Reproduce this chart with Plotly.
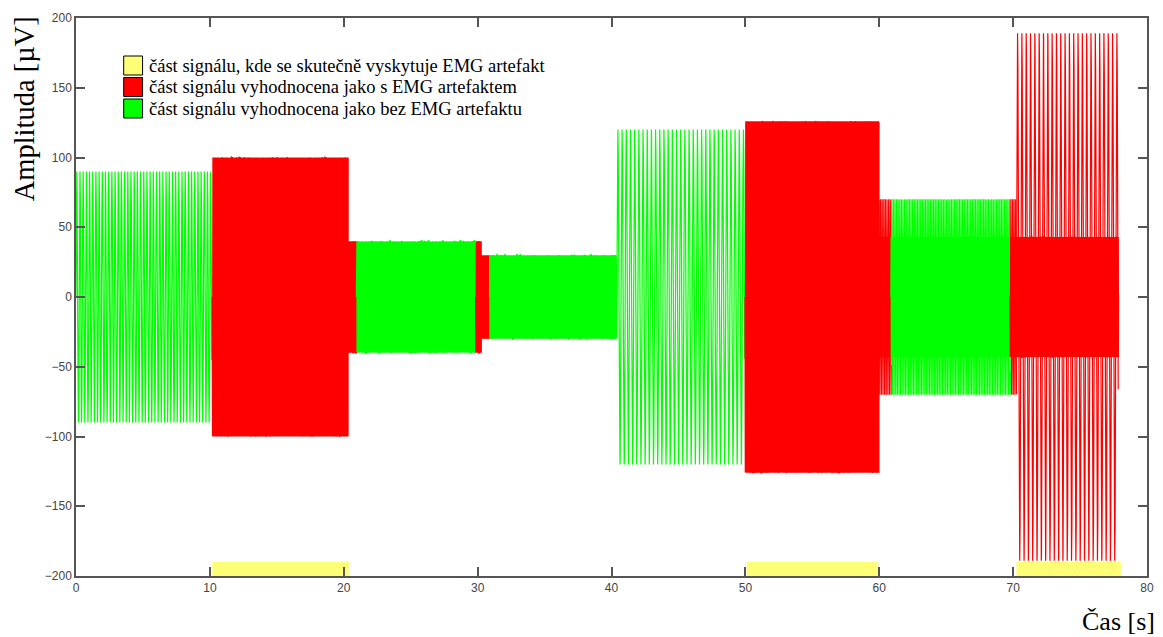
import numpy as np
import plotly.graph_objects as go

FS = 1000  # samples per second

# Signal segments: start [s], end [s], evaluation, amplitude [µV], frequency [Hz]
seg_start = [0.0, 10.2, 20.3, 20.97, 29.88, 30.25, 30.92, 40.4, 50.0, 59.95, 60.9, 69.8, 70.25]
seg_end = [10.14, 20.3, 20.97, 29.88, 30.25, 30.92, 40.35, 49.95, 59.95, 60.9, 69.8, 70.25, 77.85]
seg_artefact = [False, True, True, False, True, True, False, False, True, True, False, True, True]
seg_amp = [90, 100, 40, 40, 40, 30, 30, 120, 126, 70, 70, 70, 189]
seg_freq = [4.2, 73.3, 73.3, 71.7, 73.3, 73.3, 73.3, 3.2, 73.3, 8.3, 8.3, 8.3, 3.1]

# Superposed high-frequency component in the later segments (µV, Hz)
core_amp = [0, 0, 0, 0, 0, 0, 0, 0, 0, 43, 43, 43, 43]
core_freq = 73.3

# Intervals where the EMG artefact really occurs [s]
art_start = [10.18, 50.1, 70.25]
art_end = [20.38, 59.88, 78.05]

legend_texts = [
    "část signálu, kde se skutečně vyskytuje EMG artefakt",
    "část signálu vyhodnocena jako s EMG artefaktem",
    "část signálu vyhodnocena jako bez EMG artefaktu",
]

RED = "#ff0000"
GREEN = "#00ff00"
YELLOW = "#ffff77"

fig = go.Figure()


def segment_trace(t0, t1, amp, freq, color):
    t = np.arange(t0, t1, 1.0 / FS)
    y = amp * np.sin(2 * np.pi * freq * (t - t0))
    width = 2 if freq > 20 else 1.2
    return go.Scatter(x=t, y=y, mode="lines", line=dict(color=color, width=width),
                      showlegend=False, hoverinfo="skip")


for i in range(len(seg_start)):
    color = RED if seg_artefact[i] else GREEN
    if core_amp[i] > 0:
        fig.add_trace(segment_trace(seg_start[i], seg_end[i], core_amp[i], core_freq, color))
    fig.add_trace(segment_trace(seg_start[i], seg_end[i], seg_amp[i], seg_freq[i], color))

# True artefact intervals drawn as bars along the bottom of the axes
art_mid = [(a + b) / 2 for a, b in zip(art_start, art_end)]
art_w = [b - a for a, b in zip(art_start, art_end)]
fig.add_trace(go.Bar(x=art_mid, y=[10] * len(art_mid), base=-200, width=art_w,
                     marker=dict(color=YELLOW, line=dict(width=0)),
                     showlegend=False, hoverinfo="skip"))

# Legend swatches and texts
L, R, T, B = 76, 1154, 18, 576
W, H = R - L, B - T


def px(xp):
    return (xp - L) / W


def py(yp):
    return (B - yp) / H


sw_colors = [YELLOW, RED, GREEN]
sw_tops = [56, 77.5, 99]
for c, top, txt in zip(sw_colors, sw_tops, legend_texts):
    fig.add_shape(type="rect", xref="paper", yref="paper",
                  x0=px(124), x1=px(143), y0=py(top + 19), y1=py(top),
                  fillcolor=c, line=dict(color="black", width=1))
    fig.add_annotation(xref="paper", yref="paper", x=px(147), y=py(top + 9.5),
                       xanchor="left", yanchor="middle", text=txt, showarrow=False,
                       font=dict(family="Liberation Serif", size=18.5, color="black"))

fig.add_annotation(xref="paper", yref="paper", x=px(24), y=py(109), textangle=-90,
                   xanchor="center", yanchor="middle", text="Amplituda [µV]", showarrow=False,
                   font=dict(family="Liberation Serif", size=28.5, color="black"))
fig.add_annotation(xref="paper", yref="paper", x=px(1164), y=py(621),
                   xanchor="right", yanchor="middle", text="Čas [s]", showarrow=False,
                   font=dict(family="Liberation Serif", size=26, color="black"))

axis_common = dict(showline=True, linecolor="#555555", linewidth=1.5, mirror="ticks",
                   ticks="inside", ticklen=9, tickcolor="#555555", tickwidth=1.5,
                   showgrid=False, zeroline=False,
                   tickfont=dict(family="Liberation Sans", size=12, color="#444444"))

fig.update_layout(
    width=1163, height=637,
    margin=dict(l=L, r=1163 - R, t=T, b=637 - B),
    plot_bgcolor="white", paper_bgcolor="white",
    showlegend=False,
    xaxis=dict(range=[0, 80], dtick=10, **axis_common),
    yaxis=dict(range=[-200, 200], dtick=50, **axis_common),
)

fig.write_html("out.html")
